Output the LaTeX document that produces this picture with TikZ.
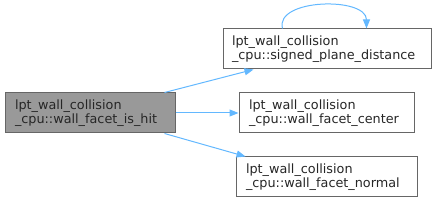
\documentclass[tikz,border=0pt]{standalone}
\usepackage{fontspec}
\setmainfont{DejaVu Sans}
\usetikzlibrary{arrows.meta,calc}
\definecolor{edgeblue}{HTML}{63B8FF}
\definecolor{boxgray}{HTML}{666666}
\definecolor{hitfill}{HTML}{999999}
\tikzset{
  fn/.style={draw=boxgray, line width=1pt, rectangle, minimum height=40pt, inner xsep=10pt, inner ysep=0pt,
    align=left, font=\fontsize{12.8}{14}\selectfont, text=black!85},
  link/.style={draw=edgeblue, line width=1pt, -{Triangle[length=9pt,width=7pt,fill=edgeblue]}},
}
\begin{document}
\begin{tikzpicture}[x=1pt,y=1pt]
\useasboundingbox (0,0) rectangle (436,203);
\node[fn, fill=hitfill, minimum width=170pt, text width=150pt, inner xsep=10pt] (hit) at (90,90)
  {lpt\_wall\_collision\\\_cpu::wall\_facet\_is\_hit};
\node[fn, minimum width=208pt, text width=190pt, inner xsep=9pt] (spd) at (327,154)
  {lpt\_wall\_collision\\\_cpu::signed\_plane\_distance};
\node[fn, minimum width=175pt, text width=155pt] (ctr) at (326.5,90)
  {lpt\_wall\_collision\\\_cpu::wall\_facet\_center};
\node[fn, minimum width=181pt, text width=161pt] (nrm) at (326.5,26)
  {lpt\_wall\_collision\\\_cpu::wall\_facet\_normal};
\draw[link] ($(hit.north west)+(160,0)$) -- ($(spd.south west)+(31,0)$);
\draw[link] (hit.east) -- (ctr.west);
\draw[link] ($(hit.south west)+(160,0)$) -- ($(nrm.north west)+(10,0)$);
\draw[link] ($(spd.north west)+(60,0)$) .. controls ($(spd.north west)+(52,30)$) and ($(spd.north west)+(144,32)$) .. ($(spd.north west)+(144,0)$);
\end{tikzpicture}
\end{document}
